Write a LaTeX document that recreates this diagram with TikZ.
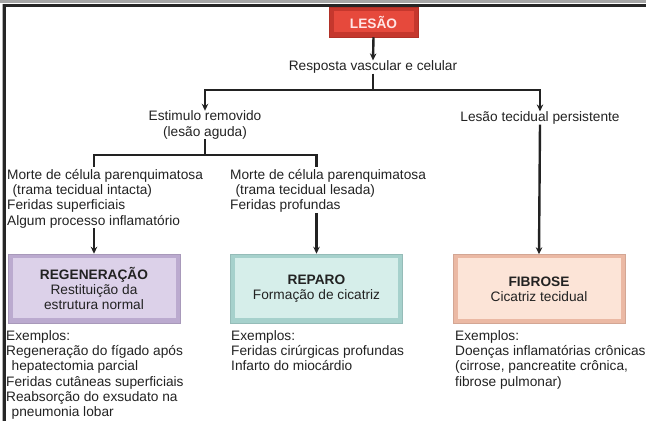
\documentclass[tikz,border=0pt]{standalone}
\usepackage{fontspec}
\setmainfont{Liberation Sans}
\usepackage{xcolor}
\usetikzlibrary{arrows.meta, positioning, calc}

\definecolor{ink}{HTML}{222222}
\definecolor{redL}{HTML}{E6493C}
\definecolor{redD}{HTML}{C5372D}
\definecolor{lilL}{HTML}{DCD1E9}
\definecolor{lilD}{HTML}{BBAACF}
\definecolor{aquaL}{HTML}{D6EEEA}
\definecolor{aquaD}{HTML}{A6D1CC}
\definecolor{peachL}{HTML}{FCE4D7}
\definecolor{peachD}{HTML}{EBB9A4}

\newcommand{\diagfont}{\fontsize{13.7}{15.3}\selectfont}

\tikzset{
  txt/.style      = {inner sep=0pt, font=\diagfont, text=ink},
  ltxt/.style     = {txt, align=left},
  ctxt/.style     = {txt, align=center},
  bevelbox/.style 2 args = {rectangle, draw=#2!90!black, line width=0.5pt,
                    fill=#2, minimum width=172pt, minimum height=69pt,
                    align=center, font=\diagfont, text=ink,
                    path picture={\fill[#1]
                      ([shift={(4.5pt,-3.5pt)}]path picture bounding box.north west)
                      rectangle
                      ([shift={(-4.5pt,5pt)}]path picture bounding box.south east);}},
  arrow/.style    = {-{Stealth[length=7pt,width=6.5pt]}, line width=2.4pt, draw=ink},
  link/.style     = {line width=2.4pt, draw=ink},
}

\begin{document}
\begin{tikzpicture}[x=1pt, y=-1pt]

  \useasboundingbox (0,0) rectangle (646,421);

  % ---- frame ----
  \fill[gray!70] (0,0) rectangle (646,2.5);
  \fill[black!85] (5,4.3) rectangle (646,6.6);
  \fill[gray!60] (1.5,4.3) rectangle (3,421);
  \fill[black!85] (3,4.3) rectangle (6,421);

  % ---- top ----
  \node[bevelbox={redL}{redD}, minimum width=89pt, minimum height=30pt,
        text=white!90!red, font=\diagfont\bfseries] (lesao) at (373.5,22) {LESÃO};
  \node[ctxt] (resp) at (373,67) {Resposta vascular e celular};
  \coordinate (j1) at (373,90);

  \node[ctxt] (estim) at (205,125) {Estimulo removido\\(lesão aguda)};
  \node[ctxt] (persist) at (540,118) {Lesão tecidual persistente};
  \coordinate (j2) at (205,155);

  % ---- outcome boxes ----
  \node[bevelbox={lilL}{lilD}] (regen) at (94,288.5)
        {\textbf{REGENERAÇÃO}\\Restituição da\\estrutura normal};
  \node[bevelbox={aquaL}{aquaD}] (reparo) at (316.5,288.5)
        {\textbf{REPARO}\\Formação de cicatriz};
  \node[bevelbox={peachL}{peachD}] (fibrose) at (539,289)
        {\textbf{FIBROSE}\\Cicatriz tecidual};

  % ---- conditions ----
  \node[ltxt, anchor=north west] (morteA) at (7,169)
        {Morte de célula parenquimatosa\\
         \hspace*{0.4em}(trama tecidual intacta)\\
         Feridas superficiais\\
         Algum processo inflamatório};
  \node[ltxt, anchor=north west] (morteB) at (230,169)
        {Morte de célula parenquimatosa\\
         \hspace*{0.4em}(trama tecidual lesada)\\
         Feridas profundas};

  % ---- examples ----
  \node[ltxt, anchor=north west] (exA) at (6,330)
        {Exemplos:\\
         Regeneração do fígado após\\
         \hspace*{0.4em}hepatectomia parcial\\
         Feridas cutâneas superficiais\\
         Reabsorção do exsudato na\\
         \hspace*{0.4em}pneumonia lobar};
  \node[ltxt, anchor=north west] (exB) at (231,330)
        {Exemplos:\\
         Feridas cirúrgicas profundas\\
         Infarto do miocárdio};
  \node[ltxt, anchor=north west] (exC) at (455,330)
        {Exemplos:\\
         Doenças inflamatórias crônicas\\
         (cirrose, pancreatite crônica,\\
         fibrose pulmonar)};

  % arrows
  \draw[arrow] (lesao.south) -- (resp.north);
  \draw[link] (resp.south) -- (j1);
  \foreach \t in {estim, persist}
    \draw[arrow] (j1) -| (\t.north);
  \draw[link] (estim.south) -- (j2);
  \draw[link] (j2) -| ($(morteA.north -| regen.north)+(0,-2)$);
  \draw[link] (j2) -| ($(morteB.north -| reparo.north)+(0,-2)$);
  \draw[arrow] (morteA.south -| regen.north) -- (regen.north);
  \draw[arrow] (morteB.south -| reparo.north) -- (reparo.north);
  \draw[arrow] (persist.south) -- (fibrose.north);

\end{tikzpicture}
\end{document}
